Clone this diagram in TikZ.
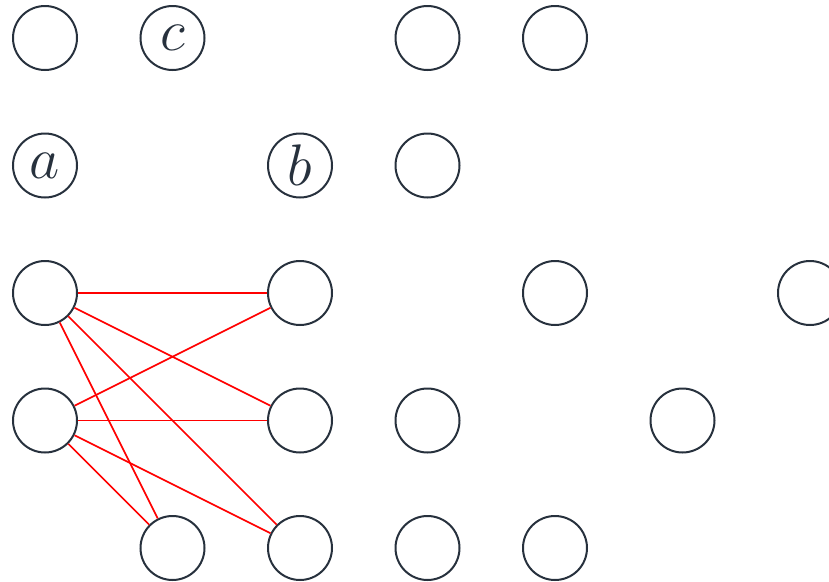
\RequirePackage{fix-cm}
\documentclass[tikz,border=0pt]{standalone}
\begin{document}
\begin{tikzpicture}[x=0.75pt,y=-0.75pt,
  vtx/.style={circle,draw=nodecol,line width=1.5pt,minimum size=48pt,inner sep=0pt,
    font=\fontsize{44}{52}\selectfont,text=nodecol},
  edge/.style={red,line width=1.25pt}]
\definecolor{nodecol}{HTML}{27313D}
\useasboundingbox (0,0) rectangle (829,582);
% row 0
\node[vtx] (n00) at (45,38) {};
\node[vtx] (n10) at (172.5,38) {$c$};
\node[vtx] (n30) at (427.5,38) {};
\node[vtx] (n40) at (555,38) {};
% row 1
\node[vtx] (n01) at (45,165.5) {$a$};
\node[vtx] (n21) at (300,165.5) {$b$};
\node[vtx] (n31) at (427.5,165.5) {};
% row 2
\node[vtx] (n02) at (45,293) {};
\node[vtx] (n22) at (300,293) {};
\node[vtx] (n42) at (555,293) {};
\node[vtx] (n62) at (810,293) {};
% row 3
\node[vtx] (n03) at (45,420.5) {};
\node[vtx] (n23) at (300,420.5) {};
\node[vtx] (n33) at (427.5,420.5) {};
\node[vtx] (n53) at (682.5,420.5) {};
% row 4
\node[vtx] (n14) at (172.5,548) {};
\node[vtx] (n24) at (300,548) {};
\node[vtx] (n34) at (427.5,548) {};
\node[vtx] (n44) at (555,548) {};
% edges
\foreach \s in {n02,n03}{
  \foreach \t in {n22,n23,n24,n14}{
    \draw[edge] (\s) -- (\t);
  }
}
\end{tikzpicture}
\end{document}
